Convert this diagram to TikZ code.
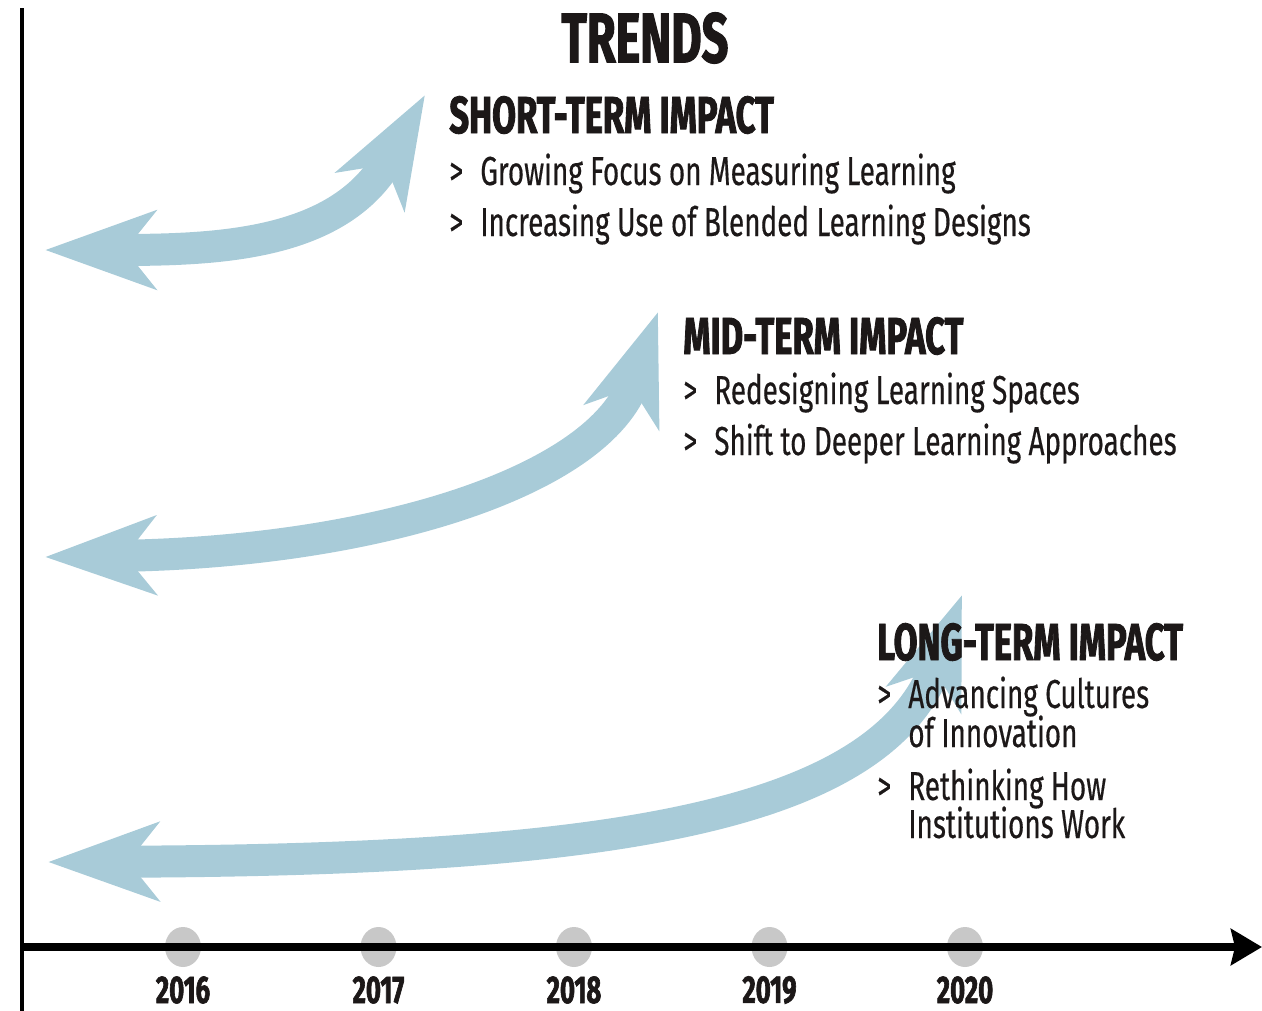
\documentclass[tikz,border=0pt]{standalone}
\usepackage{fontspec}
\setmainfont{Fira Sans}
\newfontfamily\bodyfont[FakeStretch=0.69,FakeBold=0.4]{Fira Sans}
\newfontfamily\headfont[FakeStretch=0.665,FakeBold=1.6]{Fira Sans}
\usetikzlibrary{arrows.meta,shapes.geometric}
\definecolor{arrowblue}{RGB}{168,203,216}
\definecolor{dotgray}{RGB}{200,200,200}
\definecolor{inkblack}{RGB}{28,24,24}
\newcommand{\itemmark}{\makebox[0.62cm][l]{>}}

\begin{document}
\begin{tikzpicture}[x=0.02cm, y=-0.02cm, >=Stealth,
	trend/.style={line width=0.64cm, draw=arrowblue,
		{Stealth[length=2.2cm,width=1.55cm,inset=0.6cm]}-{Stealth[length=2.2cm,width=1.55cm,inset=0.6cm]}},
	dot/.style={ellipse, fill=dotgray, minimum width=0.72cm, minimum height=0.8cm, inner sep=0pt},
	yearlbl/.style={inner sep=0pt, text=inkblack, font=\headfont\bfseries\fontsize{22}{24}\selectfont},
	head/.style={anchor=base west, inner sep=0pt, text=inkblack, font=\headfont\bfseries\fontsize{29.6}{30}\selectfont},
	item/.style={anchor=base west, inner sep=0pt, text=inkblack, font=\bodyfont\fontsize{23}{24}\selectfont}]
		\useasboundingbox (0,0) rectangle (1262,1011);
		%\draw [help lines] (0,0) grid (1262,1011);

		% the three trend arrows
		\draw [trend] (45,250) .. controls (220,250) and (340,245) .. (425,95);
		\draw [trend] (45,557) .. controls (380,552) and (600,480) .. (658,312);
		\draw [trend] (48,862) .. controls (600,860) and (880,820) .. (962,595);

		% year marks
		\foreach \yr [count=\i] in {2016,2017,2018,2019,2020} {
			\node [dot] (d\yr) at (183+195.5*\i-195.5, 947) {};
			\node [yearlbl] (y\yr) at (183+195.5*\i-195.5, 990) {\yr};
		}

		% axes
		\draw [line width=0.08cm] (22,8) -- (22,1011);
		\draw [line width=0.16cm, -{Stealth[length=0.62cm,width=0.72cm,inset=0.08cm]}] (22,947) -- (1262,947);

		\node [inner sep=0pt, text=inkblack, font=\headfont\bfseries\fontsize{40}{42}\selectfont] (trends) at (645,38) {TRENDS};

		\node [head] (short) at (449,133) {SHORT-TERM IMPACT};
		\node [item] (s1) at (449,185) {\itemmark Growing Focus on Measuring Learning};
		\node [item] (s2) at (449,236) {\itemmark Increasing Use of Blended Learning Designs};

		\node [head] (mid) at (683,354) {MID-TERM IMPACT};
		\node [item] (m1) at (683,404) {\itemmark Redesigning Learning Spaces};
		\node [item] (m2) at (683,455) {\itemmark Shift to Deeper Learning Approaches};

		\node [head] (long) at (877,660) {LONG-TERM IMPACT};
		\node [item] (l1) at (877,708) {\itemmark Advancing Cultures};
		\node [item] (l1b) at (908,747) {of Innovation};
		\node [item] (l2) at (877,800) {\itemmark Rethinking How};
		\node [item] (l2b) at (908,838) {Institutions Work};
	\end{tikzpicture}
\end{document}
